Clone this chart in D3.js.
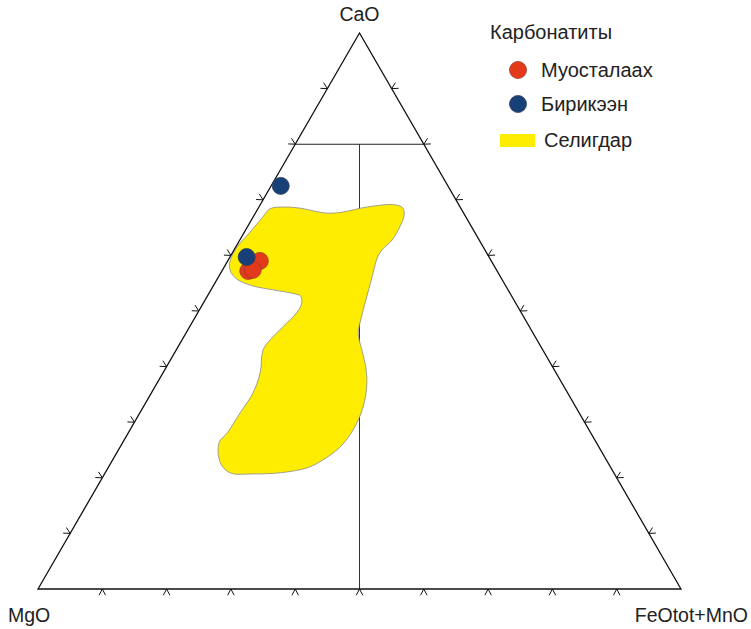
<!DOCTYPE html>
<html>
<head>
<meta charset="utf-8">
<script src="https://cdn.jsdelivr.net/npm/d3@7.9.0/dist/d3.min.js"></script>
<style>
  html, body { margin: 0; padding: 0; background: #fff; }
  svg { display: block; font-family: "Liberation Sans", Arial, sans-serif; }
</style>
</head>
<body>
<svg id="chart" width="751" height="629"></svg>
<script>
// --- data (percent: CaO, MgO, FeOtot+MnO)
const apexLabels = ['CaO', 'MgO', 'FeOtot+MnO'];
const tickValues = [10, 20, 30, 40, 50, 60, 70, 80, 90];

const muostalaah = [
  [59.0, 36.0, 5.0],
  [57.2, 38.7, 4.1],
  [57.4, 37.9, 4.7]
];
const birikeen = [
  [72.5, 26.0, 1.5],
  [59.7, 37.7, 2.6]
];
// outline of the Селигдар field
const seligdar = [
  [66.9, 31.6, 1.5], [68.4, 29.7, 1.9], [68.7, 27.2, 4.1], [68.5, 25.0, 6.5],
  [67.6, 21.3, 11.1], [67.8, 18.7, 13.5], [68.7, 14.5, 16.8], [69.1, 9.9, 21.0],
  [68.5, 9.0, 22.5], [67.3, 9.4, 23.3], [65.1, 11.2, 23.7], [62.8, 13.5, 23.7],
  [61.0, 16.0, 23.0], [59.5, 17.5, 23.0], [56.1, 20.0, 23.9], [52.0, 23.0, 25.0],
  [48.7, 25.4, 25.9], [46.0, 27.2, 26.8], [43.5, 28.0, 28.5], [40.7, 28.8, 30.5],
  [37.1, 30.3, 32.6], [32.7, 33.1, 34.2], [28.6, 36.7, 34.7], [25.5, 40.3, 34.2],
  [23.2, 44.1, 32.7], [21.8, 47.2, 31.0], [20.9, 51.9, 27.2], [20.7, 56.2, 23.1],
  [20.9, 59.7, 19.4], [22.7, 60.3, 17.0], [26.3, 58.7, 15.0], [28.1, 56.5, 15.4],
  [31.7, 52.7, 15.6], [35.3, 48.9, 15.8], [38.9, 46.0, 15.1], [43.0, 43.5, 13.5],
  [44.8, 41.5, 13.7], [47.1, 38.4, 14.5], [49.8, 34.8, 15.4], [51.4, 33.3, 15.3],
  [52.7, 32.8, 14.5], [53.2, 33.9, 12.9], [53.8, 36.5, 9.7], [54.5, 39.3, 6.2],
  [55.6, 41.1, 3.3], [57.0, 41.5, 1.5], [58.6, 40.9, 0.5], [61.5, 38.3, 0.2],
  [64.2, 34.9, 0.9]
];

const legendTitle = 'Карбонатиты';
const legendItems = ['Муосталаах', 'Бирикээн', 'Селигдар'];

// --- scales
const svg = d3.select('#chart');
const xScale = d3.scaleLinear().domain([0, 100]).range([38, 681]);
const yScale = d3.scaleLinear().domain([0, 100]).range([589, 33]);

// ternary -> screen
function proj([ca, mg, fe]) {
  const s = ca + mg + fe;
  const c = ca / s * 100, f = fe / s * 100;
  return [xScale(f + c / 2), yScale(c)];
}

const red = '#e5391b', blue = '#173f78', yellow = '#ffed00';

// --- guide lines (under the field)
const seg = (a, b) => svg.append('line')
  .attr('x1', proj(a)[0]).attr('y1', proj(a)[1])
  .attr('x2', proj(b)[0]).attr('y2', proj(b)[1]);
seg([80, 10, 10], [0, 50, 50]).attr('stroke', '#333').attr('stroke-width', 1);
seg([80, 20, 0], [80, 0, 20]).attr('stroke', '#222').attr('stroke-width', 1.1);

// --- field
const line = d3.line().curve(d3.curveCatmullRomClosed.alpha(0.5));
svg.append('path')
  .attr('d', line(seligdar.map(proj)))
  .attr('fill', yellow)
  .attr('stroke', '#8a8a8a')
  .attr('stroke-width', 0.8);

// --- triangle
const A = [100, 0, 0], B = [0, 100, 0], C = [0, 0, 100];
svg.append('path')
  .attr('d', 'M' + [A, B, C].map(proj).join('L') + 'Z')
  .attr('fill', 'none')
  .attr('stroke', '#111')
  .attr('stroke-width', 1.3);

// --- chevron ticks (apex on side, legs outwards)
const sides = [
  { from: B, to: A },   // left
  { from: A, to: C },   // right
  { from: C, to: B }    // bottom
];
const cx = xScale(50), cy = yScale(100 / 3);
sides.forEach(({ from, to }) => {
  tickValues.forEach(t => {
    const p = from.map((v, i) => v + (to[i] - v) * t / 100);
    const [px, py] = proj(p);
    const [mx, my] = proj(from.map((v, i) => (v + to[i]) / 2));
    let nx = mx - cx, ny = my - cy;
    const L = Math.hypot(nx, ny); nx /= L; ny /= L;
    const ang = Math.atan2(ny, nx), len = 7, spread = Math.PI / 6.5;
    const l1 = [px + len * Math.cos(ang - spread), py + len * Math.sin(ang - spread)];
    const l2 = [px + len * Math.cos(ang + spread), py + len * Math.sin(ang + spread)];
    svg.append('path')
      .attr('d', `M${l1}L${px},${py}L${l2}`)
      .attr('fill', 'none')
      .attr('stroke', '#111')
      .attr('stroke-width', 1);
  });
});

// --- points
const drawPts = (data, fill, stroke) => svg.append('g')
  .selectAll('circle').data(data).join('circle')
  .attr('cx', d => proj(d)[0]).attr('cy', d => proj(d)[1])
  .attr('r', 8.5)
  .attr('fill', fill)
  .attr('stroke', stroke)
  .attr('stroke-width', 0.8);
drawPts(muostalaah, red, '#9b3a28');
drawPts(birikeen, blue, '#2c3e5c');

// --- apex labels
const lab = svg.append('g').attr('font-size', 19.5).attr('fill', '#222');
lab.append('text').attr('x', xScale(50)).attr('y', 21).attr('text-anchor', 'middle').text(apexLabels[0]);
lab.append('text').attr('x', 8).attr('y', 622).text(apexLabels[1]);
lab.append('text').attr('x', 748).attr('y', 622).attr('text-anchor', 'end').text(apexLabels[2]);

// --- legend
const lg = svg.append('g').attr('font-size', 20).attr('fill', '#222');
lg.append('text').attr('x', 490).attr('y', 39).text(legendTitle);
lg.append('circle').attr('cx', 518).attr('cy', 70).attr('r', 8.5).attr('fill', red).attr('stroke', '#9b3a28').attr('stroke-width', 0.8);
lg.append('text').attr('x', 541).attr('y', 77).text(legendItems[0]);
lg.append('circle').attr('cx', 518).attr('cy', 104).attr('r', 8.5).attr('fill', blue).attr('stroke', '#2c3e5c').attr('stroke-width', 0.8);
lg.append('text').attr('x', 541).attr('y', 111).text(legendItems[1]);
lg.append('rect').attr('x', 500).attr('y', 134).attr('width', 35).attr('height', 13).attr('fill', yellow);
lg.append('text').attr('x', 544).attr('y', 147).text(legendItems[2]);
</script>
</body>
</html>
